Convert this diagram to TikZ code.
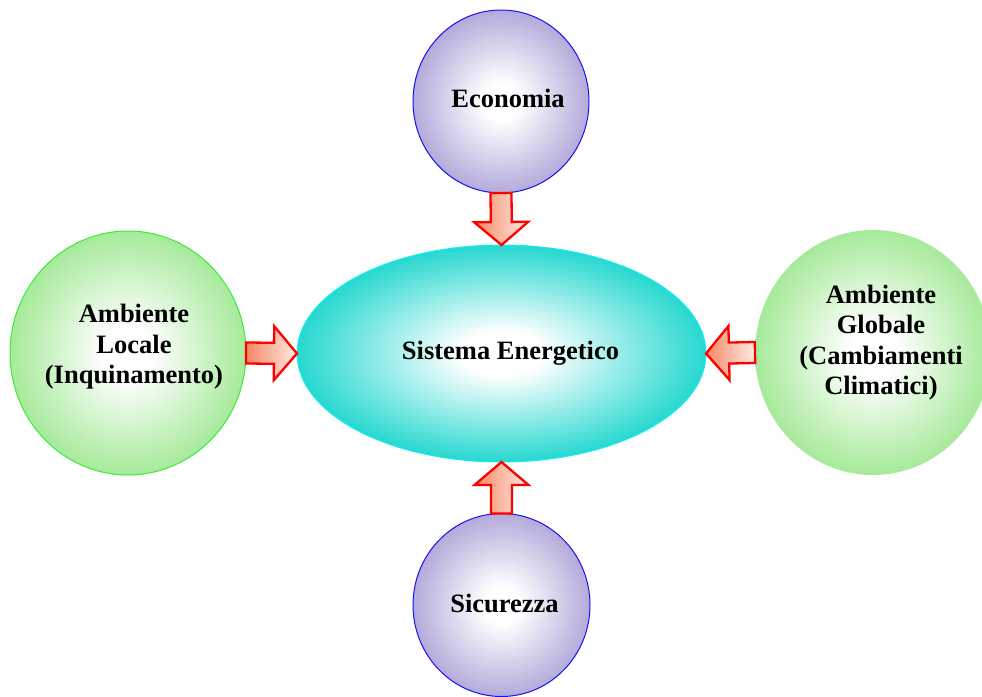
\documentclass[tikz,border=0pt]{standalone}
\usepackage{fontspec}
\setmainfont{Liberation Serif}
\usetikzlibrary{shapes.geometric,calc}
\definecolor{lavout}{RGB}{180,170,218}
\definecolor{grnout}{RGB}{166,234,154}
\definecolor{tqout}{RGB}{38,216,208}
\definecolor{arrowdark}{RGB}{246,135,100}
\definecolor{arrowlight}{RGB}{255,236,228}
\definecolor{circblue}{RGB}{20,20,240}
\definecolor{circgreen}{RGB}{60,235,60}
\definecolor{ellcyan}{RGB}{20,240,240}
\pgfdeclareradialshading{lavshade}{\pgfpoint{0bp}{0bp}}{color(0bp)=(white); color(5bp)=(white); color(25bp)=(lavout); color(50bp)=(lavout)}
\pgfdeclareradialshading{grnshade}{\pgfpoint{0bp}{0bp}}{color(0bp)=(white); color(5bp)=(white); color(25bp)=(grnout); color(50bp)=(grnout)}
\pgfdeclareradialshading{tqshade}{\pgfpoint{0bp}{0bp}}{color(0bp)=(white); color(5bp)=(white); color(25bp)=(tqout); color(50bp)=(tqout)}
\tikzset{
  txt/.style={font=\bfseries\fontsize{26.5}{30.5}\selectfont, align=center, inner sep=0pt},
  bubble/.style={ellipse, inner sep=0pt, outer sep=0pt, shade, line width=1pt},
  blockarrow/.style={draw=red, line width=2.3pt, line join=miter, left color=arrowdark, right color=arrowlight},
}
\newcommand\blockarrow[3]{%
  \coordinate (#1h) at ($(#3)!23pt!(#2)$);
  \path[blockarrow] ($(#2)!10.5pt!90:(#3)$) -- ($(#1h)!10.5pt!90:(#3)$) -- ($(#1h)!27pt!90:(#3)$) -- (#3)
     -- ($(#1h)!27pt!-90:(#3)$) -- ($(#1h)!10.5pt!-90:(#3)$) -- ($(#2)!10.5pt!-90:(#3)$) -- cycle;
}
\begin{document}
\begin{tikzpicture}[x=1pt,y=-1pt]
\useasboundingbox (0,0) rectangle (982,696);
\node[bubble, shading=lavshade, draw=circblue, minimum width=176pt, minimum height=183pt] (eco) at (501,101.5) {};
\node[bubble, shading=lavshade, draw=circblue, minimum width=177pt, minimum height=183pt] (sic) at (501.5,605) {};
\node[bubble, shading=grnshade, draw=circgreen, minimum width=236pt, minimum height=244pt] (loc) at (128,353) {};
\node[bubble, shading=grnshade, minimum width=236pt, minimum height=245pt] (glob) at (873,352.5) {};
\node[bubble, shading=tqshade, draw=ellcyan, minimum width=409pt, minimum height=217pt] (ell) at (501.5,353.5) {};
\node[txt] (ecoT) at (508,98) {Economia};
\node[txt] (sicT) at (504.5,603) {Sicurezza};
\node[txt] (ellT) at (510.5,353) {Sistema Energetico};
\node[txt] (locT) at (134,347) {Ambiente\\Locale\\(Inquinamento)};
\node[txt] (globT) at (881,342.5) {Ambiente\\Globale\\(Cambiamenti\\Climatici)};
\blockarrow{a1}{eco.south}{ell.north}
\blockarrow{a2}{loc.east}{ell.west}
\blockarrow{a3}{glob.west}{ell.east}
\blockarrow{a4}{sic.north}{ell.south}
\end{tikzpicture}
\end{document}
